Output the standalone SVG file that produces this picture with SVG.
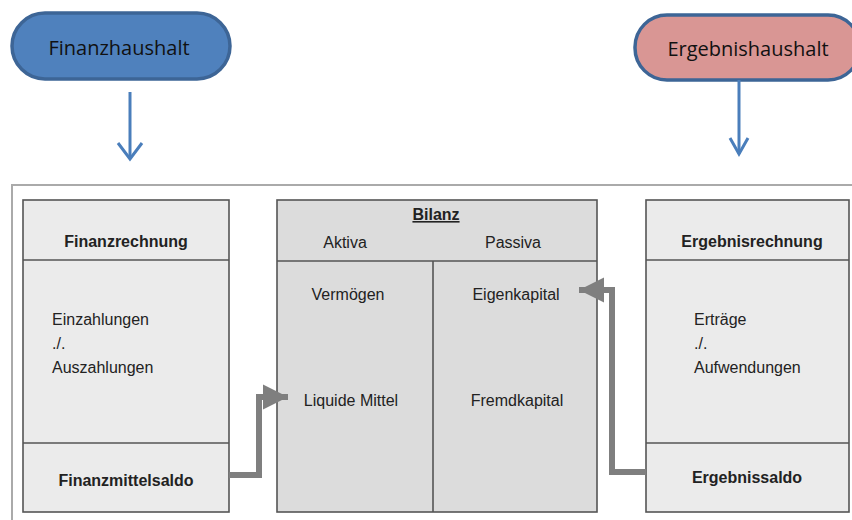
<svg xmlns="http://www.w3.org/2000/svg" width="852" height="520" viewBox="0 0 852 520">
<style>
.pill{stroke:#3d6596;stroke-width:3.5}
.pt{font-family:"Open Sans","Liberation Sans",sans-serif;font-size:20px;fill:#111;text-anchor:middle}
.box{stroke:#555;stroke-width:1.6}
.light{fill:#ebebeb}
.dark{fill:#dcdcdc}
.div{stroke:#555;stroke-width:1.6;fill:none}
.t{font-family:"Liberation Sans",Arial,sans-serif;font-size:16px;fill:#222}
.b{font-weight:bold}
.c{text-anchor:middle}
.blue{stroke:#4a7ebb;stroke-width:3;fill:none}
.gray{stroke:#7f7f7f;stroke-width:6;fill:none}
</style>
<defs>
<marker id="garrow" viewBox="0 0 10 10" refX="10" refY="5" markerWidth="4.2" markerHeight="4.2" markerUnits="strokeWidth" orient="auto">
<path d="M0,0 L10,5 L0,10 Z" fill="#7f7f7f"/>
</marker>
</defs>
<rect width="852" height="520" fill="#fff"/>
<rect x="12" y="185" width="850" height="345" fill="#fff" stroke="#aaa" stroke-width="2"/>

<g id="finanzhaushalt">
<rect class="pill" x="12" y="13" width="218" height="66" rx="33" fill="#4f81bd"/>
<text class="pt" x="119" y="55">Finanzhaushalt</text>
</g>
<g id="ergebnishaushalt">
<rect class="pill" x="635" y="15" width="225" height="65" rx="32" fill="#d99694"/>
<text class="pt" x="748" y="56">Ergebnishaushalt</text>
</g>

<g id="finanzrechnung">
<rect class="box light" x="23" y="200" width="206" height="312"/>
<line class="div" x1="23" y1="260" x2="229" y2="260"/>
<line class="div" x1="23" y1="443" x2="229" y2="443"/>
<text class="t b c" x="126" y="247">Finanzrechnung</text>
<text class="t" x="52" y="325">Einzahlungen</text>
<text class="t" x="52" y="349">./.</text>
<text class="t" x="52" y="373">Auszahlungen</text>
<text class="t b c" x="126" y="486">Finanzmittelsaldo</text>
</g>

<g id="bilanz">
<rect class="box dark" x="277" y="200" width="320" height="312"/>
<line class="div" x1="277" y1="261" x2="597" y2="261"/>
<line class="div" x1="433" y1="261" x2="433" y2="512"/>
<text class="t b c" x="436" y="220" text-decoration="underline">Bilanz</text>
<text class="t c" x="345" y="248">Aktiva</text>
<text class="t c" x="513" y="248">Passiva</text>
<text class="t c" x="348" y="300">Vermögen</text>
<text class="t c" x="516" y="300">Eigenkapital</text>
<text class="t c" x="351" y="406">Liquide Mittel</text>
<text class="t c" x="517" y="406">Fremdkapital</text>
</g>

<g id="ergebnisrechnung">
<rect class="box light" x="646" y="200" width="203" height="312"/>
<line class="div" x1="646" y1="260" x2="849" y2="260"/>
<line class="div" x1="646" y1="443" x2="849" y2="443"/>
<text class="t b c" x="752" y="247">Ergebnisrechnung</text>
<text class="t" x="694" y="325">Erträge</text>
<text class="t" x="694" y="349">./.</text>
<text class="t" x="694" y="373">Aufwendungen</text>
<text class="t b c" x="747" y="483">Ergebnissaldo</text>
</g>

<g id="connectors">
<line class="blue" x1="130" y1="92" x2="130" y2="159"/>
<polyline class="blue" points="118,143 130,159 142,143"/>
<line class="blue" x1="739" y1="80" x2="739" y2="154"/>
<polyline class="blue" points="730,138 739,154 748,138"/>
<polyline class="gray" points="229,475 259,475 259,397 288,397" marker-end="url(#garrow)"/>
<polyline class="gray" points="646,472 612,472 612,290 579,290" marker-end="url(#garrow)"/>
</g>
</svg>
